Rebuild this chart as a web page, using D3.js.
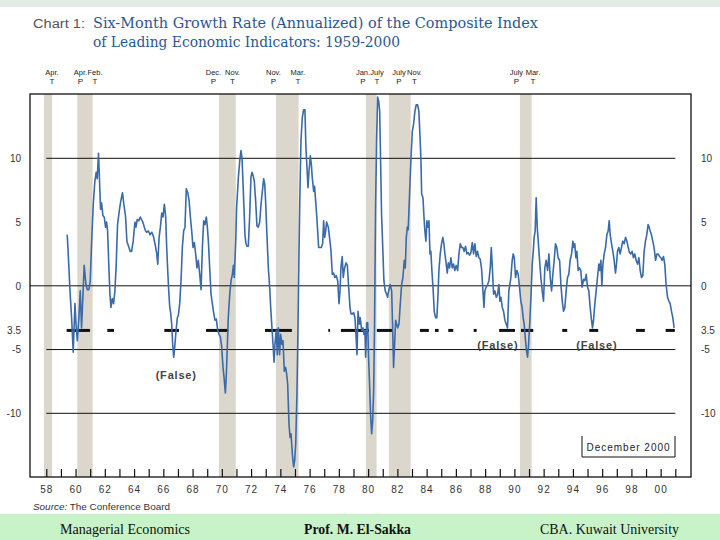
<!DOCTYPE html>
<html><head><meta charset="utf-8">
<script src="https://cdn.jsdelivr.net/npm/d3@7"></script>
<style>
html,body{margin:0;padding:0;background:#fff;}
svg{display:block;}
</style></head><body>
<svg id="c" width="720" height="540"></svg>
<script>
// Six-month growth rate (annualized) of the composite index of leading indicators, % — [decimal year, value]
const leiSeries = [
[1959.43,4.0],[1959.50,2.5],[1959.62,-0.4],[1959.73,-2.5],[1959.84,-5.2],[1959.96,-1.4],[1960.03,-3.0],[1960.12,-4.3],[1960.23,-2.5],[1960.32,-0.4],[1960.41,-3.3],[1960.50,-0.9],[1960.59,1.6],[1960.71,0.1],[1960.80,-0.3],[1960.91,-0.3],[1961.00,0.3],[1961.10,3.5],[1961.21,6.4],[1961.32,8.2],[1961.41,8.9],[1961.48,8.4],[1961.57,10.4],[1961.64,8.2],[1961.71,6.0],[1961.78,6.5],[1961.87,5.5],[1961.96,5.4],[1962.05,4.6],[1962.12,5.0],[1962.19,4.3],[1962.28,1.4],[1962.35,-0.65],[1962.42,-1.7],[1962.51,-1.0],[1962.60,-1.4],[1962.69,-0.4],[1962.78,1.7],[1962.87,4.8],[1962.99,5.9],[1963.10,6.7],[1963.21,7.3],[1963.30,6.4],[1963.42,5.4],[1963.51,3.5],[1963.62,3.1],[1963.74,2.7],[1963.83,2.7],[1963.94,3.5],[1964.06,5.0],[1964.13,4.6],[1964.22,5.2],[1964.33,5.1],[1964.42,5.4],[1964.51,5.2],[1964.60,5.0],[1964.70,4.6],[1964.79,4.3],
[1964.86,4.2],[1964.98,4.3],[1965.09,4.0],[1965.21,4.2],[1965.32,3.9],[1965.43,3.3],[1965.55,2.5],[1965.62,1.7],[1965.71,3.8],[1965.80,4.6],[1965.89,5.7],[1965.98,5.4],[1966.07,6.4],[1966.16,5.4],[1966.23,3.0],[1966.30,1.2],[1966.37,-0.4],[1966.44,-1.7],[1966.50,-2.1],[1966.57,-3.0],[1966.64,-4.6],[1966.71,-5.6],[1966.78,-4.8],[1966.87,-3.5],[1966.96,-2.5],[1967.03,-2.3],[1967.12,-1.4],[1967.21,0.4],[1967.30,3.0],[1967.39,4.3],[1967.48,4.6],[1967.57,7.6],[1967.67,7.3],[1967.76,6.7],[1967.85,5.4],[1967.94,4.3],[1968.03,3.0],[1968.12,3.4],[1968.21,2.5],[1968.30,1.4],[1968.39,2.0],[1968.49,0.9],[1968.58,-0.3],[1968.67,3.0],[1968.76,5.1],[1968.85,4.8],[1968.94,5.4],[1969.01,4.6],[1969.08,3.5],[1969.17,1.4],[1969.26,-0.65],[1969.35,-1.4],[1969.44,-2.1],[1969.53,-2.7],[1969.62,-2.6],[1969.72,-3.5],[1969.81,-3.8],[1969.90,-4.0],[1969.99,-4.8],[1970.08,-6.4],[1970.17,-7.4],[1970.24,-8.4],[1970.31,-6.9],[1970.38,-4.6],[1970.44,-2.5],[1970.54,-0.65],[1970.63,0.4],[1970.72,0.9],[1970.79,1.6],[1970.85,0.65],[1970.95,3.5],
[1971.01,6.1],[1971.13,8.5],[1971.24,10.0],[1971.31,10.6],[1971.38,10.0],[1971.45,8.0],[1971.52,5.9],[1971.58,4.0],[1971.65,3.3],[1971.72,3.1],[1971.81,3.1],[1971.90,5.4],[1971.99,8.5],[1972.06,8.9],[1972.15,8.6],[1972.22,8.2],[1972.31,6.7],[1972.40,4.7],[1972.49,4.6],[1972.59,5.0],[1972.68,6.4],[1972.77,7.4],[1972.86,8.4],[1972.93,8.0],[1972.99,6.7],[1973.09,3.8],[1973.18,1.4],[1973.27,-0.1],[1973.34,-1.7],[1973.41,-3.0],[1973.50,-4.6],[1973.57,-6.0],[1973.63,-4.6],[1973.72,-3.5],[1973.79,-5.4],[1973.86,-3.3],[1973.95,-5.4],[1974.02,-3.8],[1974.11,-4.6],[1974.18,-4.3],[1974.27,-6.7],[1974.36,-6.4],[1974.43,-6.9],[1974.50,-7.7],[1974.59,-10.8],[1974.66,-11.9],[1974.73,-11.6],[1974.82,-13.2],[1974.91,-14.2],[1974.98,-13.7],[1975.05,-12.4],[1975.14,-8.2],[1975.21,-3.0],[1975.27,2.2],[1975.34,7.4],[1975.41,11.4],[1975.50,13.2],[1975.59,13.8],[1975.68,13.8],[1975.75,10.8],[1975.82,9.3],[1975.89,7.7],[1975.96,9.0],[1976.05,10.2],[1976.12,9.5],[1976.18,8.5],[1976.28,7.4],[1976.34,7.8],[1976.41,6.7],[1976.48,5.6],[1976.55,4.3],[1976.62,3.0],[1976.71,3.0],[1976.80,3.0],[1976.89,3.3],[1976.96,5.1],[1977.03,3.8],[1977.10,4.3],[1977.16,5.0],[1977.28,4.6],[1977.39,3.5],
[1977.46,2.8],[1977.55,0.9],[1977.64,1.0],[1977.73,0.65],[1977.82,0.8],[1977.92,0.4],[1978.01,-1.4],[1978.08,-0.4],[1978.14,1.4],[1978.23,2.3],[1978.30,0.65],[1978.39,1.4],[1978.49,1.8],[1978.58,1.6],[1978.67,-0.1],[1978.76,-1.7],[1978.83,-2.2],[1978.92,-2.2],[1979.01,-2.1],[1979.10,-2.5],[1979.17,-3.8],[1979.24,-5.4],[1979.31,-2.0],[1979.40,-3.0],[1979.46,-2.5],[1979.56,-3.5],[1979.65,-3.3],[1979.72,-3.8],[1979.78,-3.5],[1979.83,-5.6],[1979.90,-2.9],[1979.97,-2.9],[1980.03,-5.6],[1980.10,-7.7],[1980.17,-10.1],[1980.24,-11.6],[1980.31,-10.6],[1980.38,-8.2],[1980.44,-3.0],[1980.51,6.1],[1980.58,11.4],[1980.65,14.8],[1980.72,14.5],[1980.79,13.7],[1980.85,10.0],[1980.92,5.6],[1981.01,2.7],[1981.08,0.4],[1981.17,-0.4],[1981.26,-0.65],[1981.33,-0.9],[1981.42,-0.3],[1981.51,0.1],[1981.61,-0.4],[1981.67,-3.0],[1981.74,-6.4],[1981.81,-4.6],[1981.88,-2.7],[1981.95,-3.0],[1982.02,-3.3],[1982.11,-3.0],[1982.20,-1.4],[1982.29,0.1],[1982.38,0.65],[1982.47,2.0],[1982.54,1.4],[1982.61,3.8],[1982.68,4.6],[1982.74,4.4],[1982.84,7.4],[1982.93,10.0],[1983.02,12.1],[1983.11,12.7],[1983.20,13.7],[1983.29,14.2],
[1983.38,14.2],[1983.47,13.7],[1983.54,11.9],[1983.61,10.0],[1983.66,7.2],[1983.75,6.9],[1983.82,5.4],[1983.88,4.3],[1983.95,3.5],[1984.02,5.1],[1984.09,4.6],[1984.16,5.1],[1984.23,2.5],[1984.29,2.7],[1984.36,1.2],[1984.45,-0.4],[1984.52,-2.0],[1984.61,-2.5],[1984.70,-2.5],[1984.77,-0.9],[1984.84,1.2],[1984.93,2.5],[1985.02,3.3],[1985.11,3.8],[1985.18,3.3],[1985.25,2.5],[1985.34,1.7],[1985.41,1.0],[1985.48,1.8],[1985.57,1.4],[1985.66,2.2],[1985.75,1.4],[1985.84,1.7],[1985.93,1.2],[1986.02,1.6],[1986.12,1.2],[1986.21,2.5],[1986.30,3.3],[1986.39,3.0],[1986.48,3.0],[1986.57,2.7],[1986.66,3.1],[1986.75,2.5],[1986.84,2.6],[1986.94,2.4],[1987.03,2.6],[1987.12,3.4],[1987.21,2.5],[1987.30,3.3],[1987.39,2.3],[1987.48,2.7],[1987.57,2.2],[1987.66,2.1],[1987.76,1.3],[1987.85,-0.4],[1987.92,-1.7],[1987.98,-0.4],[1988.07,-0.1],[1988.17,0.1],[1988.26,0.4],[1988.35,1.4],[1988.42,3.0],[1988.48,1.7],[1988.58,-0.65],[1988.67,-0.4],[1988.76,-0.9],[1988.85,-0.7],[1988.94,0.1],[1989.01,-1.2],[1989.08,-0.9],[1989.17,-1.7],[1989.26,-2.0],[1989.35,-2.7],[1989.44,-3.0],[1989.53,-3.3],
[1989.62,-0.4],[1989.69,0.1],[1989.76,0.65],[1989.85,2.0],[1989.92,2.5],[1989.99,2.2],[1990.08,0.65],[1990.17,1.2],[1990.26,0.9],[1990.35,-0.1],[1990.44,-1.2],[1990.53,-1.7],[1990.60,-2.5],[1990.67,-3.0],[1990.76,-4.3],[1990.83,-5.1],[1990.90,-5.6],[1990.97,-4.6],[1991.06,-2.7],[1991.15,-0.4],[1991.22,1.7],[1991.29,2.7],[1991.35,3.8],[1991.42,4.3],[1991.49,6.9],[1991.56,4.6],[1991.63,3.5],[1991.72,2.0],[1991.81,0.65],[1991.90,-0.4],[1991.99,-1.2],[1992.08,1.4],[1992.17,2.0],[1992.27,1.2],[1992.36,2.5],[1992.45,0.65],[1992.54,-0.4],[1992.63,0.9],[1992.72,2.0],[1992.81,3.3],[1992.90,3.0],[1992.99,2.2],[1993.09,2.0],[1993.18,0.1],[1993.27,-1.2],[1993.36,-2.0],[1993.45,-1.7],[1993.54,-0.4],[1993.63,0.65],[1993.72,0.9],[1993.81,2.0],[1993.91,2.5],[1994.00,3.5],[1994.07,3.0],[1994.13,3.3],[1994.20,2.2],[1994.27,2.7],[1994.36,1.2],[1994.45,1.4],[1994.54,1.2],[1994.63,-0.1],[1994.73,0.5],[1994.82,0.4],[1994.91,0.9],[1995.00,-0.1],[1995.09,-0.4],[1995.18,-1.7],[1995.27,-2.7],[1995.34,-3.3],[1995.41,-2.7],[1995.50,-1.4],[1995.59,-0.4],[1995.68,0.65],
[1995.77,1.7],[1995.84,1.2],[1995.91,2.0],[1995.98,0.0],[1996.05,1.7],[1996.14,2.5],[1996.23,3.0],[1996.32,4.0],[1996.41,4.3],[1996.48,5.1],[1996.55,4.0],[1996.64,3.3],[1996.73,2.7],[1996.82,2.0],[1996.91,1.0],[1996.98,1.7],[1997.05,2.7],[1997.14,3.0],[1997.23,2.5],[1997.32,3.0],[1997.41,3.5],[1997.50,3.3],[1997.60,3.8],[1997.69,3.5],[1997.78,3.0],[1997.87,2.6],[1997.96,2.5],[1998.05,2.7],[1998.14,2.2],[1998.23,2.5],[1998.32,2.0],[1998.42,1.7],[1998.51,2.2],[1998.60,1.2],[1998.69,0.65],[1998.78,0.8],[1998.87,2.7],[1998.96,3.5],[1999.05,4.0],[1999.14,4.8],[1999.21,4.6],[1999.28,4.3],[1999.37,4.0],[1999.46,3.5],[1999.55,3.0],[1999.65,2.0],[1999.74,2.5],[1999.83,2.5],[1999.92,2.3],[2000.01,2.2],[2000.10,2.0],[2000.19,2.3],[2000.28,1.7],[2000.37,0.1],[2000.47,-0.9],[2000.56,-1.2],[2000.65,-1.4],[2000.74,-2.0],[2000.83,-2.5],[2000.92,-3.3]
];
// Recession bands [start, end] in decimal years
const recessions = [[1957.84,1958.39],[1960.12,1961.17],[1969.80,1970.95],[1973.70,1975.25],[1979.85,1980.58],[1981.42,1982.91],[1990.38,1991.18]];
// Peak/trough labels above the chart: [month, type, label anchor year]
const turningPoints = [["Apr.","T",1958.39],["Apr.","P",1960.34],["Feb.","T",1961.33],["Dec.","P",1969.43],["Nov.","T",1970.73],["Nov.","P",1973.53],["Mar.","T",1975.20],["Jan.","P",1979.65],["July","T",1980.61],["July","P",1982.11],["Nov.","T",1983.17],["July","P",1990.14],["Mar.","T",1991.27]];
// Periods marked on the -3.5 signal line
const signalDashes = [[1959.39,1960.99],[1962.17,1962.63],[1966.07,1967.07],[1968.92,1970.44],[1972.95,1974.79],[1977.28,1977.40],[1978.14,1980.06],[1980.60,1981.63],[1983.54,1984.15],[1984.57,1984.82],[1985.48,1985.82],[1987.22,1987.42],[1988.96,1990.04],[1990.45,1991.29],[1993.27,1993.61],[1995.12,1995.73],[1998.31,1998.92],[2000.34,2000.97]];
// "(False)" signal annotations: [year, value]
const falseSignals = [[1966.88,-7.0],[1988.87,-4.65],[1995.64,-4.65]];
const xTickYears = d3.range(1958, 2002);
const yTickValues = [10, 5, 0, -3.5, -5, -10];
const yTickLabels = ["10", "5", "0", "3.5", "-5", "-10"];
const gridLevels = [10, -5, -10];
const signalLevel = -3.5;

const svg = d3.select("#c");
const W = 720, H = 540;
const frame = {l: 30, t: 94, r: 691, b: 477};
const x = d3.scaleLinear().domain([1958, 2001]).range([46.3, 675.3]);
const y = d3.scaleLinear().domain([-10, 10]).range([413.3, 158.3]);

// page decoration
svg.append("rect").attr("width", W).attr("height", H).attr("fill", "#fff");
svg.append("rect").attr("x", 0).attr("y", 0).attr("width", W).attr("height", 7).attr("fill", "#e2ece2");
svg.append("rect").attr("x", 0).attr("y", 514).attr("width", W).attr("height", 26).attr("fill", "#c8f3c8");

// title
svg.append("text").attr("x", 33).attr("y", 28).attr("font-family", "Liberation Sans, Arial, sans-serif")
  .attr("font-size", 12).attr("fill", "#555").attr("textLength", 52).attr("lengthAdjust", "spacingAndGlyphs").text("Chart 1:");
const titleFont = "DejaVu Serif Condensed, DejaVu Serif, serif";
svg.append("text").attr("x", 93).attr("y", 28).attr("font-family", titleFont)
  .attr("font-size", 15.5).attr("fill", "#2b5791").attr("textLength", 445).attr("lengthAdjust", "spacingAndGlyphs")
  .text("Six-Month Growth Rate (Annualized) of the Composite Index");
svg.append("text").attr("x", 93).attr("y", 47).attr("font-family", titleFont)
  .attr("font-size", 15.5).attr("fill", "#2b5791").attr("textLength", 307).attr("lengthAdjust", "spacingAndGlyphs")
  .text("of Leading Economic Indicators: 1959-2000");

// turning point labels
const tp = svg.append("g").attr("font-family", "Liberation Sans, Arial, sans-serif").attr("fill", "#222").attr("text-anchor", "middle");
tp.selectAll("text.m").data(turningPoints).join("text").attr("class", "m")
  .attr("x", d => x(d[2])).attr("y", 75).attr("font-size", 7.5).text(d => d[0]);
tp.selectAll("text.p").data(turningPoints).join("text").attr("class", "p")
  .attr("x", d => x(d[2])).attr("y", 83.5).attr("font-size", 8).text(d => d[1]);

// recession bands
svg.append("g").selectAll("rect").data(recessions).join("rect")
  .attr("x", d => x(d[0])).attr("width", d => x(d[1]) - x(d[0]))
  .attr("y", frame.t).attr("height", frame.b - frame.t).attr("fill", "#dcd7cd");

// grid lines
svg.append("g").selectAll("line").data(gridLevels).join("line")
  .attr("x1", x(1958)).attr("x2", x(2001)).attr("y1", d => y(d)).attr("y2", d => y(d))
  .attr("stroke", "#111").attr("stroke-width", 1);
svg.append("line").attr("x1", frame.l).attr("x2", frame.r).attr("y1", y(0)).attr("y2", y(0))
  .attr("stroke", "#111").attr("stroke-width", 1);

// signal dashes at -3.5
svg.append("g").selectAll("line").data(signalDashes).join("line")
  .attr("x1", d => x(d[0])).attr("x2", d => x(d[1])).attr("y1", y(signalLevel)).attr("y2", y(signalLevel))
  .attr("stroke", "#111").attr("stroke-width", 3);

// series
const line = d3.line().x(d => x(d[0])).y(d => y(d[1]));
svg.append("path").datum(leiSeries).attr("d", line).attr("fill", "none")
  .attr("stroke", "#3a6aa8").attr("stroke-width", 1.6).attr("stroke-linejoin", "round");

// frame
svg.append("rect").attr("x", frame.l).attr("y", frame.t).attr("width", frame.r - frame.l).attr("height", frame.b - frame.t)
  .attr("fill", "none").attr("stroke", "#111").attr("stroke-width", 1.3);

// x axis
const xAxis = d3.axisBottom(x).tickValues(xTickYears).tickSize(-8).tickPadding(9)
  .tickFormat(d => (d % 2 === 0 && d <= 2000) ? String(d % 100).padStart(2, "0") : "");
const gx = svg.append("g").attr("transform", `translate(0,${frame.b})`).call(xAxis);
gx.select(".domain").remove();
gx.selectAll(".tick line").attr("stroke", "#111").attr("stroke-width", 1.2);
gx.selectAll(".tick text").attr("font-family", "Liberation Sans, Arial, sans-serif").attr("font-size", 10)
  .attr("fill", "#333").attr("letter-spacing", 1);

// y axes (labels only)
const yl = d3.axisLeft(y).tickValues(yTickValues).tickSize(0).tickPadding(9).tickFormat((d, i) => yTickLabels[i]);
const gyl = svg.append("g").attr("transform", `translate(${frame.l},0)`).call(yl);
gyl.select(".domain").remove();
gyl.selectAll("text").attr("font-family", "Liberation Sans, Arial, sans-serif").attr("font-size", 10).attr("fill", "#333");
const yr = d3.axisRight(y).tickValues(yTickValues).tickSize(0).tickPadding(10).tickFormat((d, i) => yTickLabels[i]);
const gyr = svg.append("g").attr("transform", `translate(${frame.r},0)`).call(yr);
gyr.select(".domain").remove();
gyr.selectAll("text").attr("font-family", "Liberation Sans, Arial, sans-serif").attr("font-size", 10).attr("fill", "#333");

// (False) annotations
svg.append("g").selectAll("text").data(falseSignals).join("text")
  .attr("x", d => x(d[0])).attr("y", d => y(d[1])).attr("dy", "0.35em").attr("text-anchor", "middle")
  .attr("font-family", "Liberation Sans, Arial, sans-serif").attr("font-size", 11).attr("font-weight", "bold")
  .attr("letter-spacing", 0.8).attr("fill", "#444").text("(False)");

// December 2000 box
const bx = {x0: 582, x1: 675, y0: 436, y1: 457};
svg.append("path").attr("d", `M${bx.x0},${bx.y0}V${bx.y1}H${bx.x1}V${bx.y0}`).attr("fill", "none").attr("stroke", "#111").attr("stroke-width", 1);
svg.append("text").attr("x", (bx.x0 + bx.x1) / 2).attr("y", 447).attr("dy", "0.35em").attr("text-anchor", "middle")
  .attr("font-family", "Liberation Sans, Arial, sans-serif").attr("font-size", 10).attr("letter-spacing", 1).attr("fill", "#222")
  .text("December 2000");

// source
const src = svg.append("text").attr("x", 33).attr("y", 510).attr("font-family", "Liberation Sans, Arial, sans-serif")
  .attr("font-size", 9).attr("fill", "#333").attr("textLength", 137).attr("lengthAdjust", "spacingAndGlyphs");
src.append("tspan").attr("font-style", "italic").text("Source:");
src.append("tspan").text("  The Conference Board");

// footer
const ff = "Liberation Serif, Times New Roman, serif";
svg.append("text").attr("x", 60).attr("y", 534).attr("font-family", ff).attr("font-size", 15).attr("fill", "#111")
  .attr("textLength", 130).attr("lengthAdjust", "spacingAndGlyphs").text("Managerial Economics");
svg.append("text").attr("x", 304).attr("y", 534).attr("font-family", ff).attr("font-size", 15).attr("font-weight", "bold").attr("fill", "#111")
  .attr("textLength", 107).attr("lengthAdjust", "spacingAndGlyphs").text("Prof. M. El-Sakka");
svg.append("text").attr("x", 540).attr("y", 534).attr("font-family", ff).attr("font-size", 15).attr("fill", "#111")
  .attr("textLength", 139).attr("lengthAdjust", "spacingAndGlyphs").text("CBA. Kuwait University");
</script>
</body></html>
